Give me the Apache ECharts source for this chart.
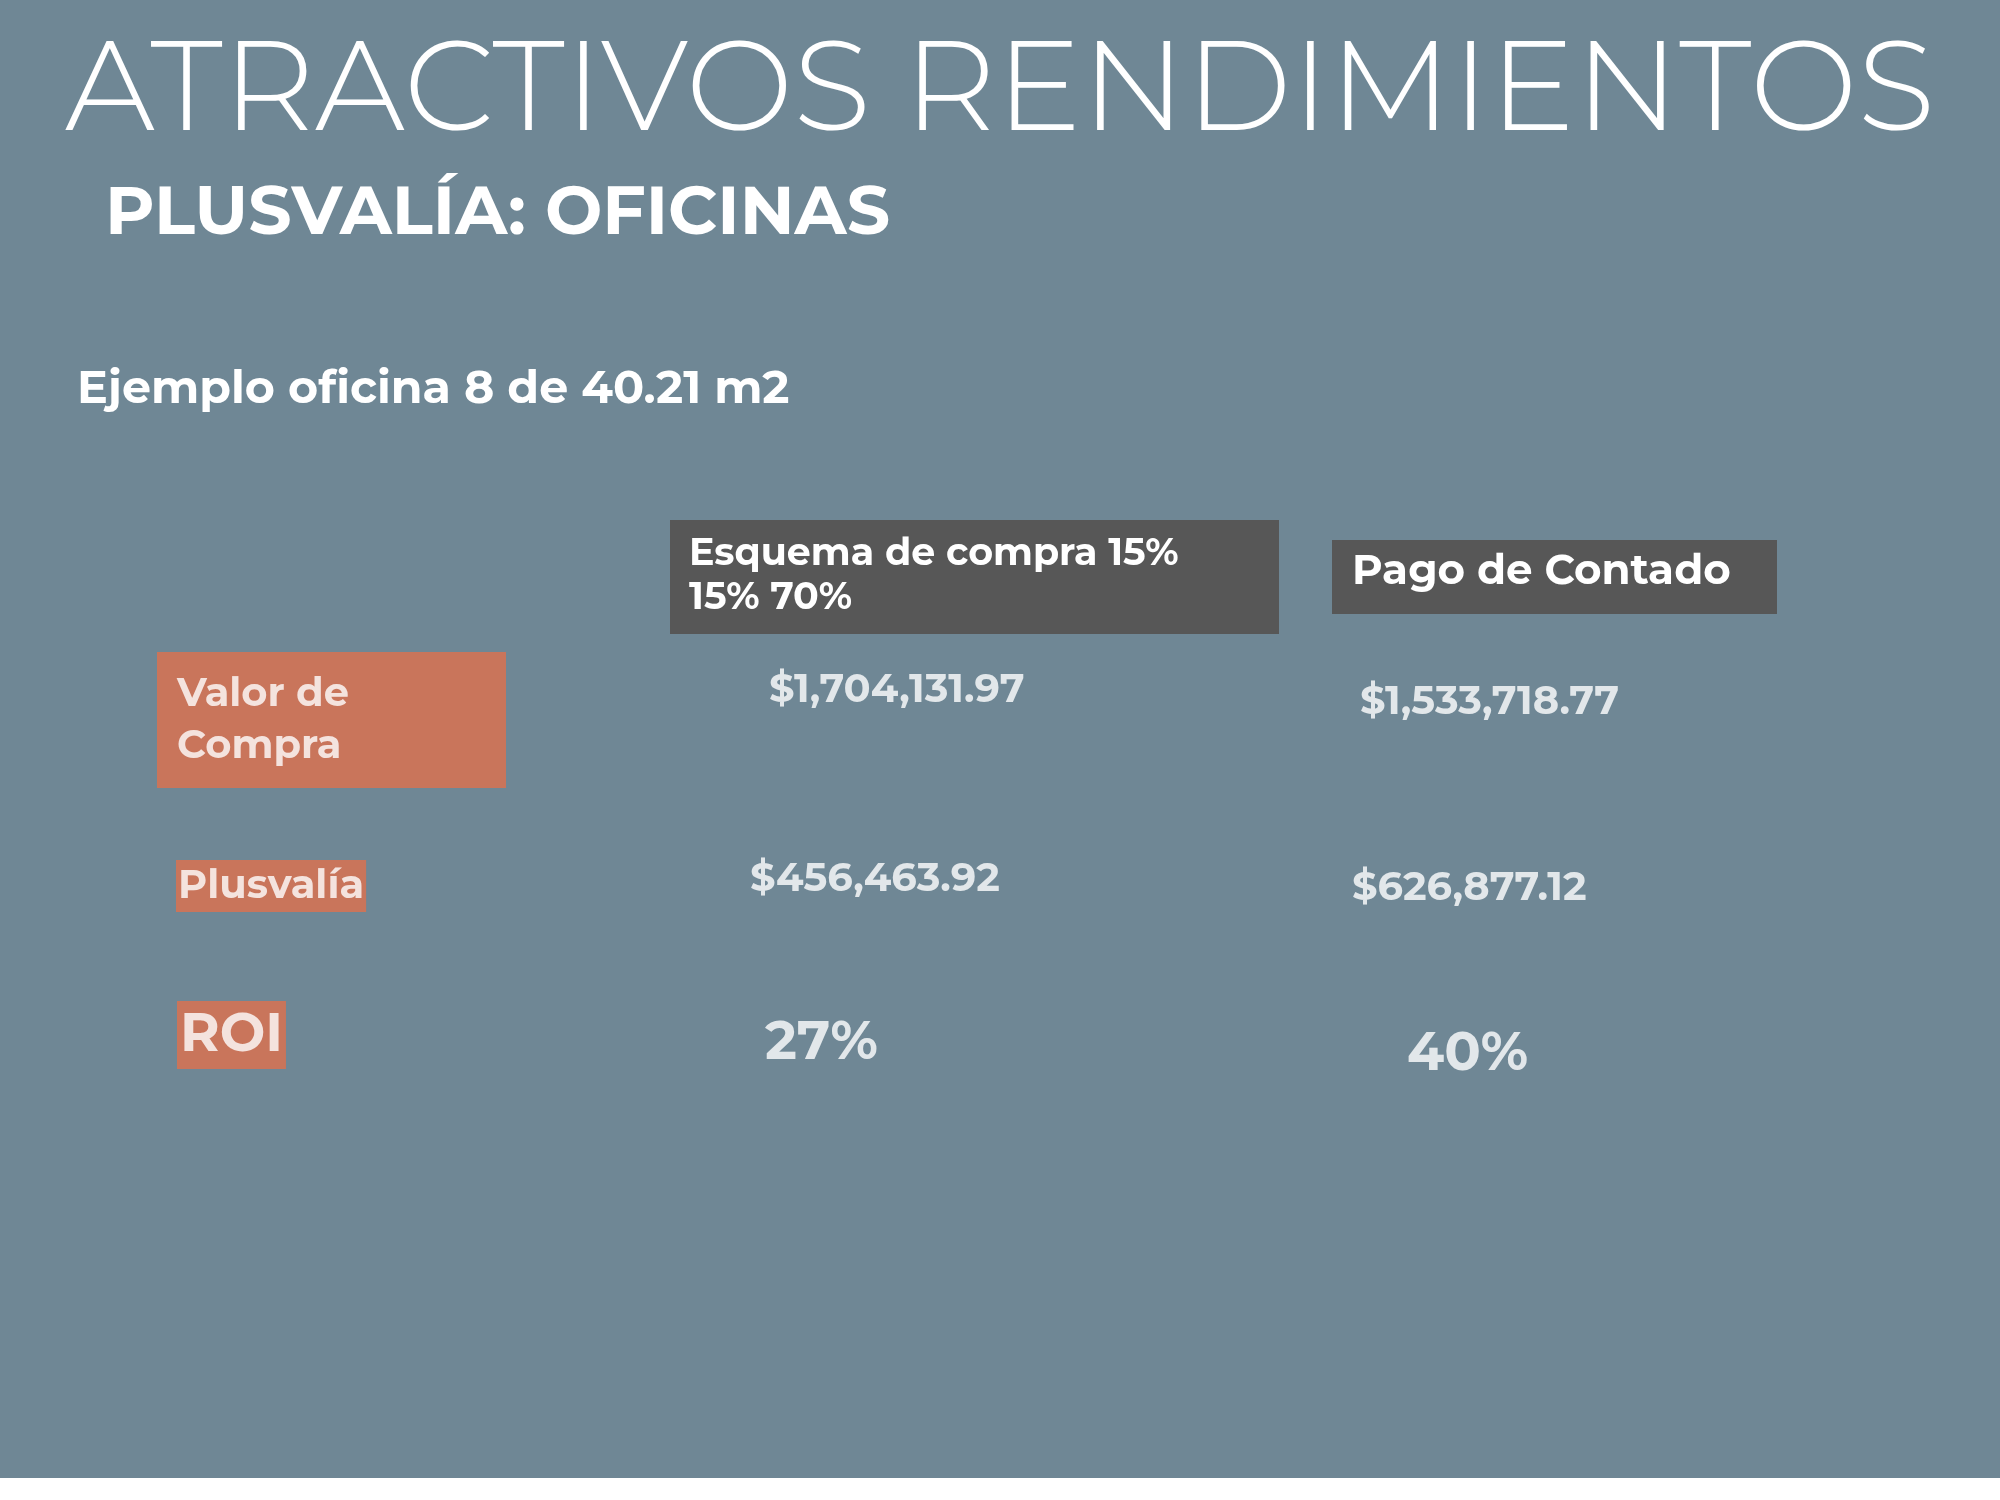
<!DOCTYPE html>
<html><head><meta charset="utf-8">
<script src="https://cdn.jsdelivr.net/npm/echarts@6/dist/echarts.min.js"></script>
<style>html,body{margin:0;padding:0;background:#fff}#c{width:2000px;height:1478px}</style>
</head><body><div id="c"></div>
<script>
const title = 'ATRACTIVOS RENDIMIENTOS';
const subtitle = 'PLUSVALÍA: OFICINAS';
const example = 'Ejemplo oficina 8 de 40.21 m2';
const columns = ['Concepto', 'Esquema de compra 15%\n15% 70%', 'Pago de Contado'];
const rows = ['Valor de\nCompra', 'Plusvalía', 'ROI'];
const esquema = ['$1,704,131.97', '$456,463.92', '27%'];
const contado = ['$1,533,718.77', '$626,877.12', '40%'];

const F = 'Montserrat, "Open Sans", sans-serif';
const ORANGE = '#e0714c';
const rowLabelStyle = [
  {offset:[-3,12], padding:[16,20,16,20], width:309, fontSize:40, lineHeight:52},
  {offset:[16,10], padding:[4,2,4,2], fontSize:40, lineHeight:44},
  {offset:[17,-9], padding:[8,3,6,3], fontSize:54, lineHeight:54}
];
const valOff1 = [[9,-18],[-10,3],[5,-1]];
const valOff2 = [[0,-6],[-8,12],[47,10]];
const valSize = [40,40,54];

const data = [];
rows.forEach((r,i)=>{
  const s = rowLabelStyle[i];
  data.push({value:[0,i], label:{formatter:r, offset:s.offset, padding:s.padding, width:s.width, fontSize:s.fontSize, lineHeight:s.lineHeight, backgroundColor:ORANGE}});
  data.push({value:[1,i], label:{formatter:esquema[i], offset:valOff1[i], fontSize:valSize[i]}});
  data.push({value:[2,i], label:{formatter:contado[i], offset:valOff2[i], fontSize:valSize[i]}});
});

const chart = echarts.init(document.getElementById('c'));
chart.setOption({
  backgroundColor:'#6f8795',
  animation:false,
  grid:{left:160, right:640, top:708, bottom:434},
  xAxis:{type:'category', data:columns, boundaryGap:false, show:false},
  yAxis:{type:'category', data:rows, boundaryGap:false, inverse:true, show:false},
  graphic:[
    {type:'text', left:'center', top:28, style:{text:title, font:'300 128px '+F, fill:'#fff'}},
    {type:'text', left:105, top:180, style:{text:subtitle, font:'bold 68px '+F, fill:'#fff'}},
    {type:'text', left:77, top:366, style:{text:example, font:'bold 46px '+F, fill:'#fff'}},
    {type:'rect', shape:{x:670, y:520, width:609, height:114}, style:{fill:'#575757'}},
    {type:'text', left:689, top:532, style:{text:columns[1], font:'bold 38px '+F, lineHeight:44, fill:'#fff'}},
    {type:'rect', shape:{x:1332, y:540, width:445, height:74}, style:{fill:'#575757'}},
    {type:'text', left:1352, top:551, style:{text:columns[2], font:'bold 42px '+F, fill:'#fff'}}
  ],
  series:[{
    type:'scatter', symbolSize:0, data:data,
    label:{show:true, position:'right', distance:0, color:'#fff', fontFamily:F, fontWeight:'bold', verticalAlign:'middle'}
  }]
});
</script></body></html>
